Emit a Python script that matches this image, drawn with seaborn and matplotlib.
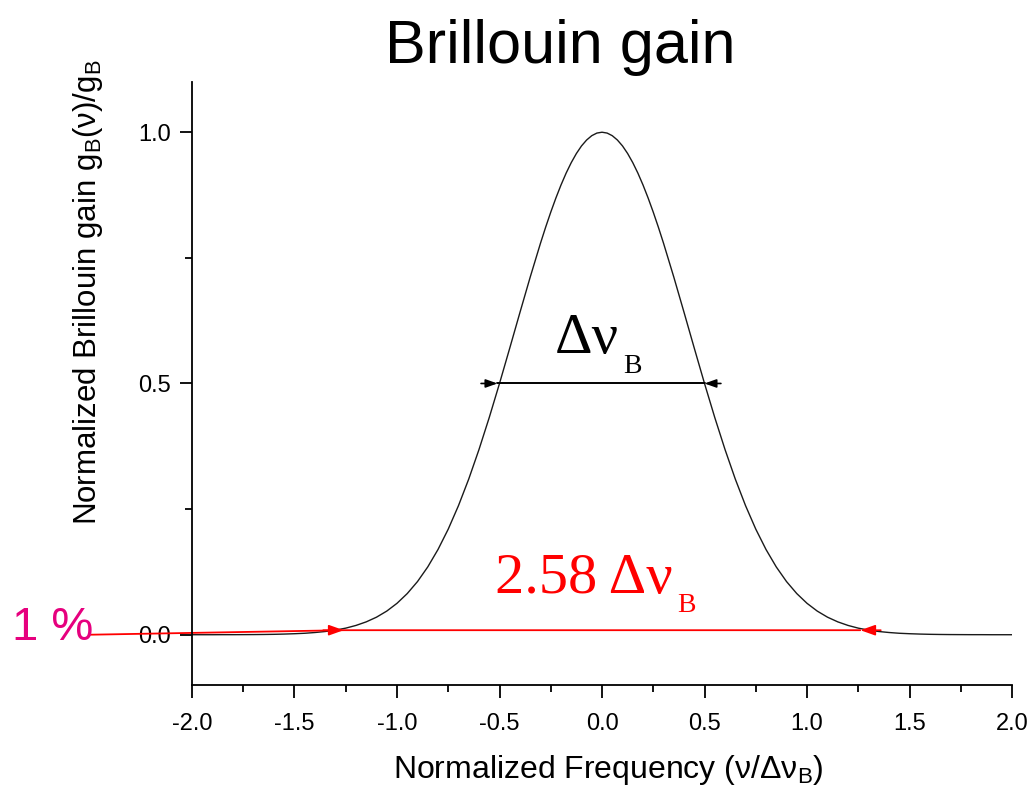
import numpy as np
import pandas as pd
import matplotlib
matplotlib.use("Agg")
import matplotlib.pyplot as plt
from matplotlib.ticker import MultipleLocator
import seaborn as sns

# normalized frequency (nu / delta nu_B) and normalized gain
freq = [-2.00, -1.95, -1.90, -1.85, -1.80, -1.75, -1.70, -1.65, -1.60, -1.55,
        -1.50, -1.45, -1.40, -1.35, -1.30, -1.25, -1.20, -1.15, -1.10, -1.05,
        -1.00, -0.95, -0.90, -0.85, -0.80, -0.75, -0.70, -0.65, -0.60, -0.55,
        -0.50, -0.45, -0.40, -0.35, -0.30, -0.275, -0.25, -0.225, -0.20, -0.175,
        -0.15, -0.125, -0.10, -0.075, -0.05, -0.025,
        0.00, 0.025, 0.05, 0.075, 0.10, 0.125, 0.15, 0.175, 0.20, 0.225,
        0.25, 0.275, 0.30, 0.35, 0.40, 0.45,
        0.50, 0.55, 0.60, 0.65, 0.70, 0.75, 0.80, 0.85, 0.90, 0.95,
        1.00, 1.05, 1.10, 1.15, 1.20, 1.25, 1.30, 1.35, 1.40, 1.45,
        1.50, 1.55, 1.60, 1.65, 1.70, 1.75, 1.80, 1.85, 1.90, 1.95, 2.00]
gain = [0.0000, 0.0000, 0.0000, 0.0001, 0.0001, 0.0002, 0.0003, 0.0005, 0.0008, 0.0013,
        0.0020, 0.0029, 0.0044, 0.0064, 0.0092, 0.0131, 0.0185, 0.0256, 0.0349, 0.0470,
        0.0625, 0.0819, 0.1058, 0.1349, 0.1696, 0.2102, 0.2570, 0.3099, 0.3686, 0.4323,
        0.5000, 0.5704, 0.6417, 0.7120, 0.7792, 0.8109, 0.8409, 0.8690, 0.8950, 0.9186,
        0.9395, 0.9576, 0.9727, 0.9845, 0.9931, 0.9983,
        1.0000, 0.9983, 0.9931, 0.9845, 0.9727, 0.9576, 0.9395, 0.9186, 0.8950, 0.8690,
        0.8409, 0.8109, 0.7792, 0.7120, 0.6417, 0.5704,
        0.5000, 0.4323, 0.3686, 0.3099, 0.2570, 0.2102, 0.1696, 0.1349, 0.1058, 0.0819,
        0.0625, 0.0470, 0.0349, 0.0256, 0.0185, 0.0131, 0.0092, 0.0064, 0.0044, 0.0029,
        0.0020, 0.0013, 0.0008, 0.0005, 0.0003, 0.0002, 0.0001, 0.0001, 0.0000, 0.0000, 0.0000]

# annotation levels
fwhm_edges = [-0.51, 0.50]      # half maximum crossings
fwhm_level = 0.5
pct_edges = [-1.26, 1.26]       # 1 % crossings
pct_level = 0.009
pct_start = -2.5                # red line starts left of the axis

df = pd.DataFrame({"freq": freq, "gain": gain})

sns.set_style("ticks")
plt.rcParams["font.family"] = ["Liberation Sans", "DejaVu Sans"]
plt.rcParams["mathtext.fontset"] = "custom"
plt.rcParams["mathtext.rm"] = "Liberation Sans"
plt.rcParams["mathtext.default"] = "regular"
for k in ["text.color", "axes.labelcolor", "xtick.color", "ytick.color", "axes.edgecolor"]:
    plt.rcParams[k] = "black"

fig = plt.figure(figsize=(10.35, 7.95), dpi=100)
ax = fig.add_axes([0.1855, 0.1384, 0.7923, 0.7585])

sns.lineplot(data=df, x="freq", y="gain", ax=ax, color="#1a1a1a", linewidth=1.0)

ax.set_xlim(-2.0, 2.0)
ax.set_ylim(-0.1, 1.1)
ax.xaxis.set_major_locator(MultipleLocator(0.5))
ax.xaxis.set_minor_locator(MultipleLocator(0.25))
ax.yaxis.set_major_locator(MultipleLocator(0.5))
ax.yaxis.set_minor_locator(MultipleLocator(0.25))
ax.xaxis.set_major_formatter(plt.FormatStrFormatter("%.1f"))
ax.yaxis.set_major_formatter(plt.FormatStrFormatter("%.1f"))
sns.despine(ax=ax)
for s in ["left", "bottom"]:
    ax.spines[s].set_linewidth(1.3)
ax.tick_params(which="major", length=9, width=1.3, labelsize=17, pad=6)
ax.tick_params(axis="x", which="major", pad=11)
ax.tick_params(which="minor", length=5, width=1.3)
ax.set_xlabel("")
ax.set_ylabel("")

# FWHM marker
ax.plot(fwhm_edges, [fwhm_level, fwhm_level], color="black", lw=1.4)
for tip, tail in [(fwhm_edges[0], fwhm_edges[0] - 0.08), (fwhm_edges[1], fwhm_edges[1] + 0.08)]:
    ax.annotate("", xy=(tip, fwhm_level), xytext=(tail, fwhm_level),
                arrowprops=dict(arrowstyle="-|>,head_length=0.7,head_width=0.25",
                                color="black", lw=1.2, shrinkA=0, shrinkB=0))

# 1 % width marker
ax.plot([pct_start, pct_edges[0], pct_edges[1]], [0.0, pct_level, pct_level],
        color="red", lw=1.3, clip_on=False)
for tip, tail in [(pct_edges[0], pct_edges[0] - 0.1), (pct_edges[1], pct_edges[1] + 0.1)]:
    ax.annotate("", xy=(tip, pct_level), xytext=(tail, pct_level),
                arrowprops=dict(arrowstyle="-|>,head_length=0.9,head_width=0.32",
                                color="red", lw=1.2, shrinkA=0, shrinkB=0))

serif = ["Liberation Serif", "DejaVu Serif"]
t1 = ax.text(-0.229, 0.56, "Δν", family=serif, fontsize=42, color="black",
             ha="left", va="baseline")
ax.annotate("B", xy=(1.0, 0.56), xycoords=(t1, "data"), xytext=(3, -14),
            textcoords="offset points", family=serif, fontsize=20,
            color="black", ha="left", va="baseline")
t2 = ax.text(-0.522, 0.084, "2.58 Δν", family=serif, fontsize=42, color="red",
             ha="left", va="baseline")
ax.annotate("B", xy=(1.0, 0.084), xycoords=(t2, "data"), xytext=(3, -14),
            textcoords="offset points", family=serif, fontsize=20,
            color="red", ha="left", va="baseline")

fig.text(0.0116, 0.195, "1 %", fontsize=34, color="#e6007e", ha="left", va="baseline")
fig.text(0.541, 0.921, "Brillouin gain", fontsize=44, ha="center", va="baseline")
fig.text(0.588, 0.021, "Normalized Frequency (ν/Δν$_B$)", fontsize=23,
         ha="center", va="baseline")
fig.text(0.085, 0.633, "Normalized Brillouin gain g$_B$(ν)/g$_B$", fontsize=22.5,
         ha="center", va="center", rotation=90)

fig.savefig("out.png", dpi=100, facecolor="white")
